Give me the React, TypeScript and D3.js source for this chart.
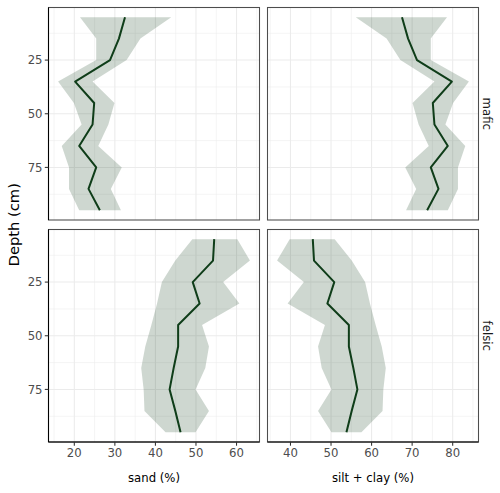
import React from "react";
import * as d3 from "d3";

// Depth midpoints (cm) of each sampling interval
const depths = [5, 15, 25, 35, 45, 55, 65, 75, 85, 95];

// Mafic parent material
const maficSandMean = [32.5, 31.0, 28.8, 20.2, 24.9, 24.5, 21.2, 25.4, 23.5, 26.3];
const maficSandLow = [21.4, 25.4, 25.4, 16.0, 19.9, 21.8, 16.9, 18.7, 18.7, 21.2];
const maficSandHigh = [43.9, 36.3, 32.9, 24.5, 29.9, 28.4, 25.9, 31.7, 29.0, 31.5];
const maficFinesMean = [67.5, 69.0, 71.2, 79.8, 75.1, 75.5, 78.8, 74.6, 76.5, 73.7];
const maficFinesLow = [56.1, 63.7, 67.1, 75.5, 70.1, 71.6, 74.1, 68.3, 71.0, 68.5];
const maficFinesHigh = [78.6, 74.6, 74.6, 84.0, 80.1, 78.2, 83.1, 81.3, 81.3, 78.8];

// Felsic parent material
const felsicSandMean = [54.5, 54.2, 49.2, 50.9, 45.6, 45.6, 44.5, 43.5, 44.9, 46.2];
const felsicSandLow = [49.1, 44.9, 41.6, 40.4, 39.0, 37.5, 36.5, 37.1, 37.3, 42.5];
const felsicSandHigh = [60.2, 63.3, 56.7, 60.7, 51.5, 53.2, 52.3, 49.9, 53.2, 49.9];
const felsicFinesMean = [45.5, 45.8, 50.8, 49.1, 54.4, 54.4, 55.5, 56.5, 55.1, 53.8];
const felsicFinesLow = [39.8, 36.7, 43.3, 39.3, 48.5, 46.8, 47.7, 50.1, 46.8, 50.1];
const felsicFinesHigh = [50.9, 55.1, 58.4, 59.6, 61.0, 62.5, 63.5, 62.9, 62.7, 57.5];

const rowLabels = ["mafic", "felsic"];
const colLabels = ["sand (%)", "silt + clay (%)"];
const colTicks = [
  [20, 30, 40, 50, 60],
  [40, 50, 60, 70, 80],
];
const depthTicks = [25, 50, 75];

const W = 500;
const H = 493;
const colX: [number, number][] = [
  [48.5, 259.5],
  [267.5, 478.5],
];
const rowY: [number, number][] = [
  [7.5, 220],
  [229.5, 442],
];

const FONT = "DejaVu Sans, sans-serif";
const LINE = "#0f3d19";
const RIBBON = "#1e4a2a";

type Series = { mean: number[]; low: number[]; high: number[] };

const panels: Series[][] = [
  [
    { mean: maficSandMean, low: maficSandLow, high: maficSandHigh },
    { mean: maficFinesMean, low: maficFinesLow, high: maficFinesHigh },
  ],
  [
    { mean: felsicSandMean, low: felsicSandLow, high: felsicSandHigh },
    { mean: felsicFinesMean, low: felsicFinesLow, high: felsicFinesHigh },
  ],
];

function expanded(lo: number, hi: number): [number, number] {
  const pad = (hi - lo) * 0.05;
  return [lo - pad, hi + pad];
}

export default function App() {
  // free x scale per column, shared across rows
  const xScales = [0, 1].map((c) => {
    const all = panels.flatMap((row) => [...row[c].low, ...row[c].high]);
    const [lo, hi] = expanded(d3.min(all)!, d3.max(all)!);
    return d3.scaleLinear().domain([lo, hi]).range(colX[c]);
  });
  const [dlo, dhi] = expanded(d3.min(depths)!, d3.max(depths)!);
  const yScales = [0, 1].map((r) =>
    d3.scaleLinear().domain([dlo, dhi]).range(rowY[r])
  );

  const yMinor = [12.5, 37.5, 62.5, 87.5];

  return (
    <svg width={W} height={H} style={{ position: "absolute", left: 0, top: 0 }}>
      <rect x={0} y={0} width={W} height={H} fill="#ffffff" />
      {[0, 1].map((r) =>
        [0, 1].map((c) => {
          const x = xScales[c];
          const y = yScales[r];
          const s = panels[r][c];
          const [x0, x1] = colX[c];
          const [y0, y1] = rowY[r];
          const [vlo, vhi] = x.domain();
          const majors = x.ticks(5).filter((v) => v >= vlo && v <= vhi);
          const minors = d3
            .range(Math.floor(vlo / 5) * 5, vhi, 5)
            .filter((v) => v % 10 !== 0 && v >= vlo && v <= vhi);
          const area = d3
            .area<number>()
            .y((_, i) => y(depths[i]))
            .x0((_, i) => x(s.low[i]))
            .x1((_, i) => x(s.high[i]));
          const line = d3
            .line<number>()
            .x((v) => x(v))
            .y((_, i) => y(depths[i]));
          return (
            <g key={`${r}-${c}`}>
              {minors.map((v) => (
                <line key={`mx${v}`} x1={x(v)} x2={x(v)} y1={y0} y2={y1} stroke="#ebebeb" strokeWidth={0.55} />
              ))}
              {yMinor.map((v) => (
                <line key={`my${v}`} x1={x0} x2={x1} y1={y(v)} y2={y(v)} stroke="#ebebeb" strokeWidth={0.55} />
              ))}
              {majors.map((v) => (
                <line key={`Mx${v}`} x1={x(v)} x2={x(v)} y1={y0} y2={y1} stroke="#ebebeb" strokeWidth={1.07} />
              ))}
              {depthTicks.map((v) => (
                <line key={`My${v}`} x1={x0} x2={x1} y1={y(v)} y2={y(v)} stroke="#ebebeb" strokeWidth={1.07} />
              ))}
              <path d={area(depths) ?? ""} fill={RIBBON} fillOpacity={0.22} />
              <path d={line(s.mean) ?? ""} fill="none" stroke={LINE} strokeWidth={2} strokeLinejoin="round" />
              <rect x={x0} y={y0} width={x1 - x0} height={y1 - y0} fill="none" stroke="#4d4d4d" strokeWidth={1.07} />
              {c === 0 && (
                <line x1={x0} x2={x0} y1={y0} y2={y1} stroke="#000" strokeWidth={1.07} />
              )}
              {r === 1 && (
                <line x1={x0} x2={x1} y1={y1} y2={y1} stroke="#000" strokeWidth={1.07} />
              )}
              {c === 0 &&
                depthTicks.map((v) => (
                  <g key={`yt${v}`}>
                    <line x1={x0 - 3.7} x2={x0} y1={y(v)} y2={y(v)} stroke="#333" strokeWidth={1.07} />
                    <text x={x0 - 6} y={y(v)} dy="0.35em" textAnchor="end" fontSize={11.7} fill="#4d4d4d" fontFamily={FONT}>
                      {v}
                    </text>
                  </g>
                ))}
              {r === 1 &&
                colTicks[c].map((v) => (
                  <g key={`xt${v}`}>
                    <line x1={x(v)} x2={x(v)} y1={y1} y2={y1 + 3.7} stroke="#333" strokeWidth={1.07} />
                    <text x={x(v)} y={y1 + 6} dy="0.75em" textAnchor="middle" fontSize={11.7} fill="#4d4d4d" fontFamily={FONT}>
                      {v}
                    </text>
                  </g>
                ))}
            </g>
          );
        })
      )}
      {colLabels.map((t, c) => (
        <text key={t} x={(colX[c][0] + colX[c][1]) / 2} y={482} textAnchor="middle" fontSize={11.7} fill="#000" fontFamily={FONT}>
          {t}
        </text>
      ))}
      {rowLabels.map((t, r) => {
        const cy = (rowY[r][0] + rowY[r][1]) / 2;
        return (
          <text key={t} transform={`translate(487,${cy}) rotate(90)`} textAnchor="middle" dy="0.35em" fontSize={11.7} fill="#1a1a1a" fontFamily={FONT}>
            {t}
          </text>
        );
      })}
      <text transform={`translate(14,${(rowY[0][0] + rowY[1][1]) / 2}) rotate(-90)`} textAnchor="middle" dy="0.35em" fontSize={14.7} fill="#000" fontFamily={FONT}>
        Depth (cm)
      </text>
    </svg>
  );
}
